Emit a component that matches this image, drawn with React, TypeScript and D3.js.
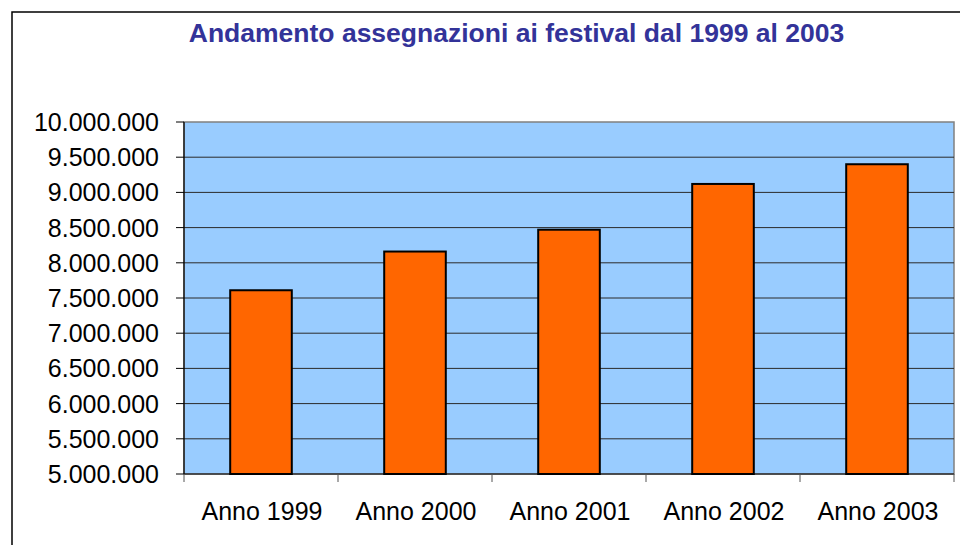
import * as d3 from "d3";

const categories = ["Anno 1999", "Anno 2000", "Anno 2001", "Anno 2002", "Anno 2003"];
const values = [7610000, 8160000, 8470000, 9120000, 9400000];
const yTicks = [5000000, 5500000, 6000000, 6500000, 7000000, 7500000, 8000000, 8500000, 9000000, 9500000, 10000000];

const title = "Andamento assegnazioni ai festival dal 1999 al 2003";

const W = 960;
const H = 545;
const plot = { left: 184, right: 954, top: 122, bottom: 474 };

// Italian thousands separator
const fmt = (v: number) =>
  Math.round(v)
    .toString()
    .replace(/\B(?=(\d{3})+(?!\d))/g, ".");

export default function App() {
  const x = d3
    .scaleBand<string>()
    .domain(categories)
    .range([plot.left, plot.right])
    .paddingInner(0.6)
    .paddingOuter(0.3);

  const y = d3.scaleLinear().domain([5000000, 10000000]).range([plot.bottom, plot.top]);

  // category boundaries for the x tick marks
  const bandW = (plot.right - plot.left) / categories.length;
  const boundaries = d3.range(categories.length + 1).map((i) => plot.left + i * bandW);

  return (
    <svg
      width={W}
      height={H}
      style={{ position: "absolute", left: 0, top: 0, background: "#fff" }}
      fontFamily="'Liberation Sans', Arial, sans-serif"
    >
      {/* outer chart border */}
      <rect x={12} y={12} width={W + 20} height={H + 20} fill="#fff" stroke="#000" strokeWidth={1.5} />

      <text x={516.5} y={42} textAnchor="middle" fontSize={26.5} fontWeight="bold" fill="#333399">
        {title}
      </text>

      {/* plot area */}
      <rect
        x={plot.left}
        y={plot.top}
        width={plot.right - plot.left}
        height={plot.bottom - plot.top}
        fill="#99CCFF"
        stroke="#808080"
        strokeWidth={1.5}
      />

      {/* gridlines */}
      {yTicks.slice(1, -1).map((t) => (
        <line key={t} x1={plot.left} x2={plot.right} y1={y(t)} y2={y(t)} stroke="#2b2b2b" strokeWidth={1} />
      ))}

      {/* bars */}
      {categories.map((c, i) => (
        <rect
          key={c}
          x={x(c)}
          y={y(values[i])}
          width={x.bandwidth()}
          height={plot.bottom - y(values[i])}
          fill="#FF6600"
          stroke="#000"
          strokeWidth={2}
        />
      ))}

      {/* y axis */}
      <line x1={plot.left} x2={plot.left} y1={plot.top} y2={plot.bottom} stroke="#000" strokeWidth={1.2} />
      {yTicks.map((t) => (
        <g key={t}>
          <line x1={plot.left - 8} x2={plot.left} y1={y(t)} y2={y(t)} stroke="#000" strokeWidth={1} />
          <text x={159} y={y(t)} dy="0.36em" textAnchor="end" fontSize={25} fill="#000">
            {fmt(t)}
          </text>
        </g>
      ))}

      {/* x axis */}
      <line x1={plot.left} x2={plot.right} y1={plot.bottom} y2={plot.bottom} stroke="#000" strokeWidth={1.2} />
      {boundaries.map((b, i) => (
        <line key={i} x1={b} x2={b} y1={plot.bottom} y2={plot.bottom + 8} stroke="#555" strokeWidth={1} />
      ))}
      {categories.map((c) => (
        <text key={c} x={(x(c) ?? 0) + x.bandwidth() / 2 + 1} y={520} textAnchor="middle" fontSize={25} fill="#000">
          {c}
        </text>
      ))}
    </svg>
  );
}
